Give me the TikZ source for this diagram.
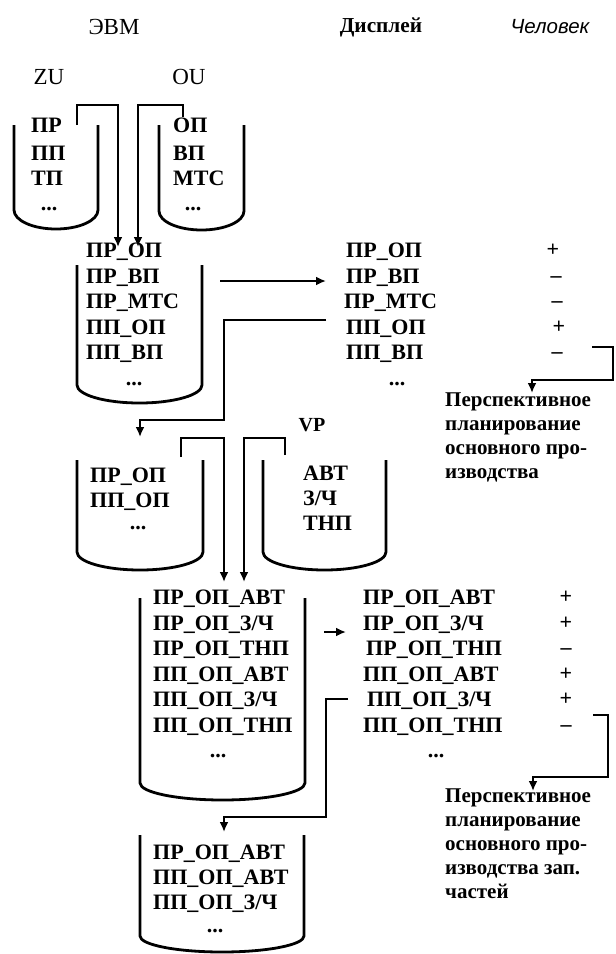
\documentclass[tikz,border=0pt]{standalone}
\usepackage{fontspec}
\setmainfont{Liberation Serif}
\newfontfamily\sansit{Liberation Sans}
\usepackage{xcolor}
\usetikzlibrary{arrows.meta}
\definecolor{inkblack}{RGB}{0,0,0}
\tikzset{
  vessel/.style={draw=inkblack, line width=2.8pt, line join=round},
  flow/.style={draw=inkblack, line width=2.6pt, -{Latex[length=10pt,width=9pt]}},
  head/.style={inner sep=0pt, text=inkblack, font=\fontsize{23}{26}\selectfont},
  rowlbl/.style={anchor=west, inner sep=0pt, text height=14.5pt, text depth=0pt, text=inkblack, font=\fontsize{22}{26}\selectfont\bfseries},
  dotrow/.style={rowlbl, anchor=center, text height=4pt},
  signlbl/.style={rowlbl, anchor=center, text height=12.5pt},
  noteblk/.style={anchor=north west, inner sep=0pt, align=left, text=inkblack, font=\fontsize{21}{24}\selectfont\bfseries}
}
\begin{document}
\begin{tikzpicture}[x=1pt,y=1pt]
    \useasboundingbox (0,0) rectangle (616,-954);

    \node[head] (hevm) at (114,-27) {ЭВМ};
    \node[head, font=\fontsize{21.3}{26}\selectfont\bfseries] (hdisp) at (381,-27) {Дисплей};
    \node[head, font=\fontsize{20.5}{26}\selectfont\sansit\itshape] (hman) at (550,-27) {Человек};
    \node[head] (hzu) at (49,-77) {ZU};
    \node[head] (hou) at (189,-77) {OU};
    \node[head, font=\fontsize{20}{24}\selectfont\bfseries] (hvp) at (312,-425) {VP};

    \draw[vessel] (14,-125) -- (14,-210) arc[start angle=180, end angle=360, x radius=42pt, y radius=19pt] -- (98,-125);
    \node[rowlbl] (zua) at (31,-125) {ПР};
    \node[rowlbl] (zub) at (31,-153) {ПП};
    \node[rowlbl] (zuc) at (31,-178) {ТП};
    \node[dotrow] (zud) at (49,-208) {...};

    \draw[vessel] (159,-125) -- (159,-211) arc[start angle=180, end angle=360, x radius=42.5pt, y radius=19pt] -- (244,-125);
    \node[rowlbl] (oua) at (173,-125) {ОП};
    \node[rowlbl] (oub) at (173,-153) {ВП};
    \node[rowlbl] (ouc) at (173,-178) {МТС};
    \node[dotrow] (oud) at (193,-208) {...};

    \draw[vessel] (77,-265) -- (77,-385) arc[start angle=180, end angle=360, x radius=62.5pt, y radius=18pt] -- (202,-265);
    \node[rowlbl] (m1a) at (86,-250) {ПР\_ОП};
    \node[rowlbl] (m1b) at (86,-276) {ПР\_ВП};
    \node[rowlbl] (m1c) at (86,-301) {ПР\_МТС};
    \node[rowlbl] (m1d) at (86,-327) {ПП\_ОП};
    \node[rowlbl] (m1e) at (86,-352) {ПП\_ВП};
    \node[dotrow] (m1f) at (134,-383) {...};

    \node[rowlbl] (d1a) at (346,-250) {ПР\_ОП};
    \node[rowlbl] (d1b) at (346,-276) {ПР\_ВП};
    \node[rowlbl] (d1c) at (344,-301) {ПР\_МТС};
    \node[rowlbl] (d1d) at (346,-327) {ПП\_ОП};
    \node[rowlbl] (d1e) at (346,-352) {ПП\_ВП};
    \node[dotrow] (d1f) at (397,-383) {...};

    \node[signlbl] (s1a) at (553,-250) {+};
    \node[signlbl] (s1b) at (556,-276) {--};
    \node[signlbl] (s1c) at (557,-301) {--};
    \node[signlbl] (s1d) at (559,-327) {+};
    \node[signlbl] (s1e) at (557,-352) {--};

    \node[noteblk] (note1) at (445,-393) {Перспективное\\планирование\\основного про-\\изводства};

    \draw[vessel] (77,-460) -- (77,-552) arc[start angle=180, end angle=360, x radius=63pt, y radius=18pt] -- (203,-460);
    \node[rowlbl] (l2a) at (90,-475) {ПР\_ОП};
    \node[rowlbl] (l2b) at (90,-500) {ПП\_ОП};
    \node[dotrow] (l2c) at (138,-527) {...};

    \draw[vessel] (263,-460) -- (263,-552) arc[start angle=180, end angle=360, x radius=61.5pt, y radius=18pt] -- (386,-460);
    \node[rowlbl] (vpa) at (303,-473) {АВТ};
    \node[rowlbl] (vpb) at (303,-498) {З/Ч};
    \node[rowlbl] (vpc) at (303,-523) {ТНП};

    \draw[vessel] (140,-598) -- (140,-783) arc[start angle=180, end angle=360, x radius=82.5pt, y radius=17pt] -- (305,-598);
    \node[rowlbl] (m2a) at (153,-597) {ПР\_ОП\_АВТ};
    \node[rowlbl] (m2b) at (153,-623) {ПР\_ОП\_З/Ч};
    \node[rowlbl] (m2c) at (153,-648) {ПР\_ОП\_ТНП};
    \node[rowlbl] (m2d) at (153,-674) {ПП\_ОП\_АВТ};
    \node[rowlbl] (m2e) at (153,-699) {ПП\_ОП\_З/Ч};
    \node[rowlbl] (m2f) at (153,-725) {ПП\_ОП\_ТНП};
    \node[dotrow] (m2g) at (218,-755) {...};

    \node[rowlbl] (d2a) at (363,-597) {ПР\_ОП\_АВТ};
    \node[rowlbl] (d2b) at (363,-623) {ПР\_ОП\_З/Ч};
    \node[rowlbl] (d2c) at (366,-648) {ПР\_ОП\_ТНП};
    \node[rowlbl] (d2d) at (363,-674) {ПП\_ОП\_АВТ};
    \node[rowlbl] (d2e) at (367,-699) {ПП\_ОП\_З/Ч};
    \node[rowlbl] (d2f) at (363,-725) {ПП\_ОП\_ТНП};
    \node[dotrow] (d2g) at (436,-755) {...};

    \node[signlbl] (s2a) at (566,-597) {+};
    \node[signlbl] (s2b) at (566,-623) {+};
    \node[signlbl] (s2c) at (566,-648) {--};
    \node[signlbl] (s2d) at (566,-674) {+};
    \node[signlbl] (s2e) at (566,-699) {+};
    \node[signlbl] (s2f) at (566,-725) {--};

    \node[noteblk] (note2) at (445,-789) {Перспективное\\планирование\\основного про-\\изводства зап.\\частей};

    \draw[vessel] (140,-835) -- (140,-936) arc[start angle=180, end angle=360, x radius=82pt, y radius=16pt] -- (304,-835);
    \node[rowlbl] (c4a) at (153,-852) {ПР\_ОП\_АВТ};
    \node[rowlbl] (c4b) at (153,-877) {ПП\_ОП\_АВТ};
    \node[rowlbl] (c4c) at (153,-902) {ПП\_ОП\_З/Ч};
    \node[dotrow] (c4d) at (215,-930) {...};

    \coordinate (zuout) at (77,-125);
    \coordinate (ouout) at (183,-117);
    \coordinate (m1in) at (118,-247);
    \coordinate (m1inb) at (138,-247);
    \draw[flow] (zuout) -- ++(0,20) -| (m1in);
    \draw[flow] (ouout) -- ++(0,12) -| (m1inb);

    \coordinate (m1out) at (220,-281);
    \coordinate (d1in) at (326,-281);
    \draw[flow] (m1out) -- (d1in);

    \coordinate (d1back) at (326,-320);
    \coordinate (l2in) at (140,-437);
    \draw[flow] (d1back) -- ++(-102,0) -- ++(0,-100) -| (l2in);

    \coordinate (s1out) at (592,-347);
    \coordinate (note1in) at (532,-393);
    \draw[flow] (s1out) -- ++(21,0) -- ++(0,-33) -| (note1in);

    \coordinate (l2out) at (181,-457);
    \coordinate (vpout) at (285,-455);
    \coordinate (m2in) at (224,-582);
    \coordinate (m2inb) at (244,-582);
    \draw[flow] (l2out) -- ++(0,19) -| (m2in);
    \draw[flow] (vpout) -- ++(0,17) -| (m2inb);

    \coordinate (m2out) at (324,-632);
    \coordinate (d2in) at (346,-632);
    \draw[flow] (m2out) -- (d2in);

    \coordinate (d2back) at (348,-699);
    \coordinate (c4in) at (224,-832);
    \draw[flow] (d2back) -- ++(-22,0) -- ++(0,-118) -| (c4in);

    \coordinate (s2out) at (593,-715);
    \coordinate (note2in) at (533,-791);
    \draw[flow] (s2out) -- ++(15,0) -- ++(0,-62) -| (note2in);
\end{tikzpicture}
\end{document}
